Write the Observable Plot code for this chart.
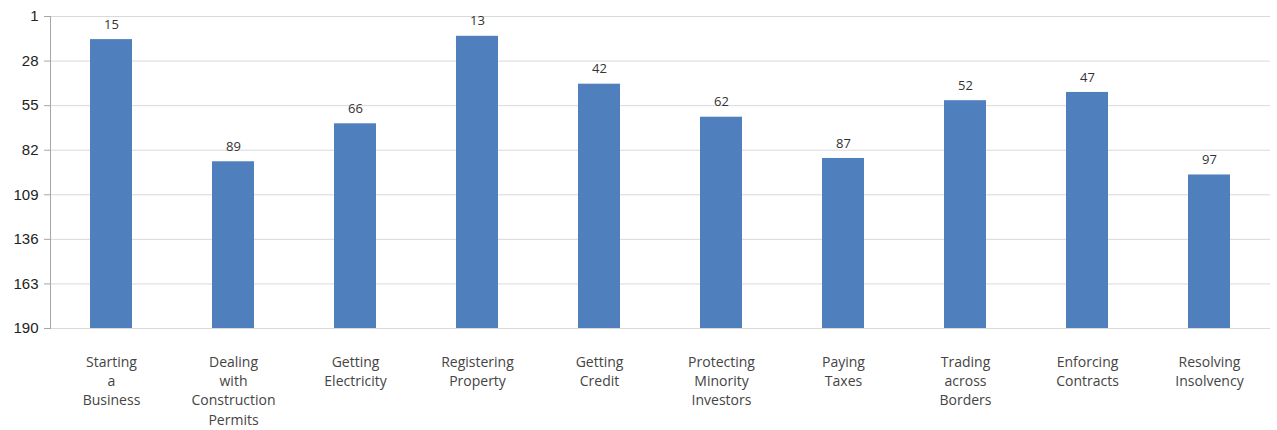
<!DOCTYPE html>
<html>
<head>
<meta charset="utf-8">
<script src="https://cdn.jsdelivr.net/npm/d3@7"></script>
<script src="https://cdn.jsdelivr.net/npm/@observablehq/plot@0.6"></script>
<style>
  html, body { margin: 0; padding: 0; background: #fff; }
</style>
</head>
<body>
<div id="chart"></div>
<script>
const categories = ["Starting a Business", "Dealing with Construction Permits", "Getting Electricity", "Registering Property", "Getting Credit", "Protecting Minority Investors", "Paying Taxes", "Trading across Borders", "Enforcing Contracts", "Resolving Insolvency"];
const categoryLabels = ["Starting\na\nBusiness", "Dealing\nwith\nConstruction\nPermits", "Getting\nElectricity", "Registering\nProperty", "Getting\nCredit", "Protecting\nMinority\nInvestors", "Paying\nTaxes", "Trading\nacross\nBorders", "Enforcing\nContracts", "Resolving\nInsolvency"];
const ranks = [15, 89, 66, 13, 42, 62, 87, 52, 47, 97];
const yTicks = [1, 28, 55, 82, 109, 136, 163, 190];

const data = categories.map((c, i) => ({category: c, rank: ranks[i]}));
const labelOf = new Map(categories.map((c, i) => [c, categoryLabels[i]]));

const chart = Plot.plot({
  width: 1277,
  height: 430,
  marginLeft: 50,
  marginRight: 7,
  marginTop: 16,
  marginBottom: 102,
  style: {background: "#fff"},
  x: {domain: categories, paddingInner: 0.656, paddingOuter: 0.328, align: 0.5},
  y: {domain: [190, 1]},
  marks: [
    Plot.gridY(yTicks, {stroke: "#d9d9d9", strokeOpacity: 1, strokeWidth: 1}),
    Plot.frame({anchor: "left", stroke: "#a6a6a6"}),
    Plot.barY(data, {x: "category", y1: 190, y2: "rank", fill: "#4f7fbd"}),
    Plot.text(data, {x: "category", y: "rank", text: d => String(d.rank), dy: -15, fontSize: 13, fill: "#333", fontFamily: "Open Sans"}),
    Plot.axisY({ticks: yTicks, tickSize: 6, tickPadding: 6, fontSize: 15, fontFamily: "Liberation Sans", fill: "#222", stroke: "#a6a6a6", label: null}),
    Plot.axisX({tickSize: 0, tickPadding: 25, tickFormat: d => labelOf.get(d), lineAnchor: "top", lineHeight: 1.37, fontSize: 14, fontFamily: "Open Sans", fill: "#444", label: null})
  ]
});
document.getElementById("chart").appendChild(chart);
</script>
</body>
</html>
